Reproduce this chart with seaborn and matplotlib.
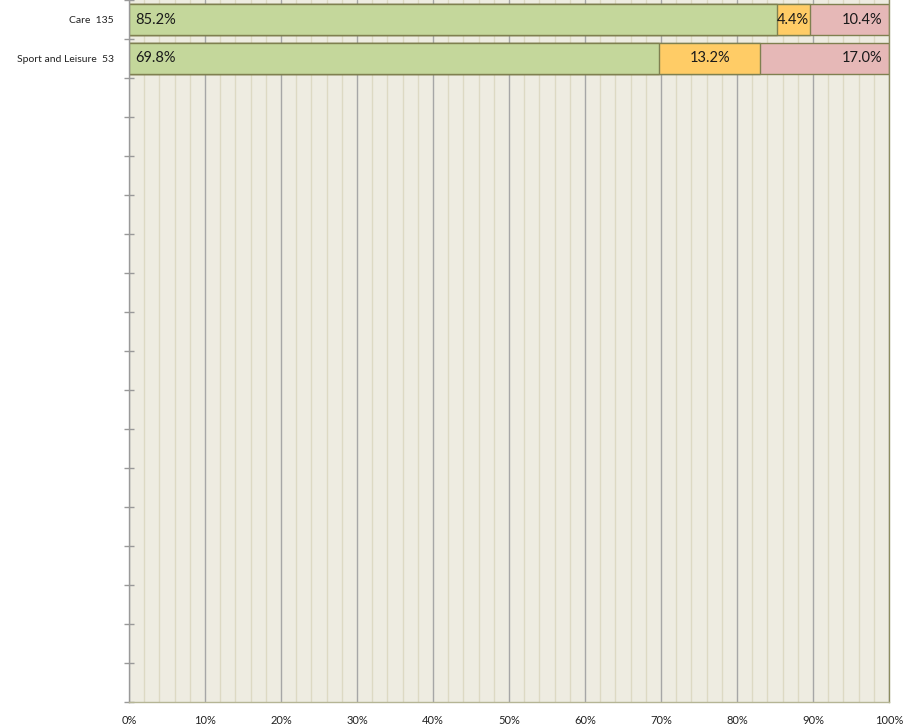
import numpy as np
import pandas as pd
import matplotlib
matplotlib.use("Agg")
import matplotlib.pyplot as plt
import seaborn as sns

categories = ["Care", "Sport and Leisure"]
counts = [135, 53]
green_vals = [85.2, 69.8]
yellow_vals = [4.4, 13.2]
pink_vals = [10.4, 17.0]
n_rows = 18
x_ticks = list(range(0, 101, 10))
x_tick_labels = [f"{v}%" for v in x_ticks]

labels = [f"{c}  {n}" for c, n in zip(categories, counts)]
order = labels + [" " * (i + 1) for i in range(n_rows - len(labels))]

df = pd.DataFrame({
    "label": labels,
    "g": green_vals,
    "gy": [g + y for g, y in zip(green_vals, yellow_vals)],
    "gyp": [g + y + p for g, y, p in zip(green_vals, yellow_vals, pink_vals)],
})

sns.set_theme(style="white")
plt.rcParams["font.family"] = ["Lato", "DejaVu Sans"]

fig = plt.figure(figsize=(9.09, 7.28), dpi=100)
ax = fig.add_axes([129 / 909, 1 - 702 / 728, 760 / 909, 702 / 728])
ax.set_facecolor("#EEECE1")

edge = "#7F8050"
C_G, C_Y, C_P = "#C4D79B", "#FFCC66", "#E6B8B7"
for col, c in [("gyp", C_P), ("gy", C_Y), ("g", C_G)]:
    sns.barplot(data=df, x=col, y="label", order=order, color=c, saturation=1,
                edgecolor=edge, linewidth=1.0, width=0.77, ax=ax, orient="h")

for i in range(len(labels)):
    g, y, p = green_vals[i], yellow_vals[i], pink_vals[i]
    ax.annotate(f"{g:.1f}%", (0, i), xytext=(4.5, 0), textcoords="offset points",
                ha="left", va="center", fontsize=10.5, color="#1a1a1a")
    ax.annotate(f"{y:.1f}%", (g + y / 2, i), ha="center", va="center",
                fontsize=10.5, color="#1a1a1a")
    ax.annotate(f"{p:.1f}%", (100, i), xytext=(-4.5, 0), textcoords="offset points",
                ha="right", va="center", fontsize=10.5, color="#1a1a1a")

ax.set_xlim(0, 100)
ax.set_ylim(n_rows - 0.5, -0.5)
ax.set_xticks(x_ticks)
ax.set_xticklabels(x_tick_labels, fontsize=8, color="#222222")
ax.set_xticks(np.arange(0, 101, 2), minor=True)
ax.set_yticks(range(n_rows))
ax.set_yticklabels(order, fontsize=7.5, color="#222222")
ax.set_yticks(np.arange(-0.5, n_rows, 1), minor=True)
ax.tick_params(axis="y", which="major", left=True, length=0, pad=11)
ax.tick_params(axis="y", which="minor", left=True, length=7, direction="inout",
               color="#999999", width=1)
ax.tick_params(axis="x", which="both", length=0, pad=9)
ax.set_axisbelow(True)
ax.xaxis.grid(True, which="major", color="#A6A6A6", linewidth=1)
ax.xaxis.grid(True, which="minor", color="#DDD9C3", linewidth=1)
ax.yaxis.grid(False, which="both")
ax.set_xlabel("")
ax.set_ylabel("")
ax.spines["top"].set_visible(False)
ax.spines["left"].set_color("#999999")
ax.spines["bottom"].set_color("#B5B595")
ax.spines["right"].set_color("#8C8C60")
for s in ax.spines.values():
    s.set_linewidth(1)

fig.savefig("out.png", dpi=100)
